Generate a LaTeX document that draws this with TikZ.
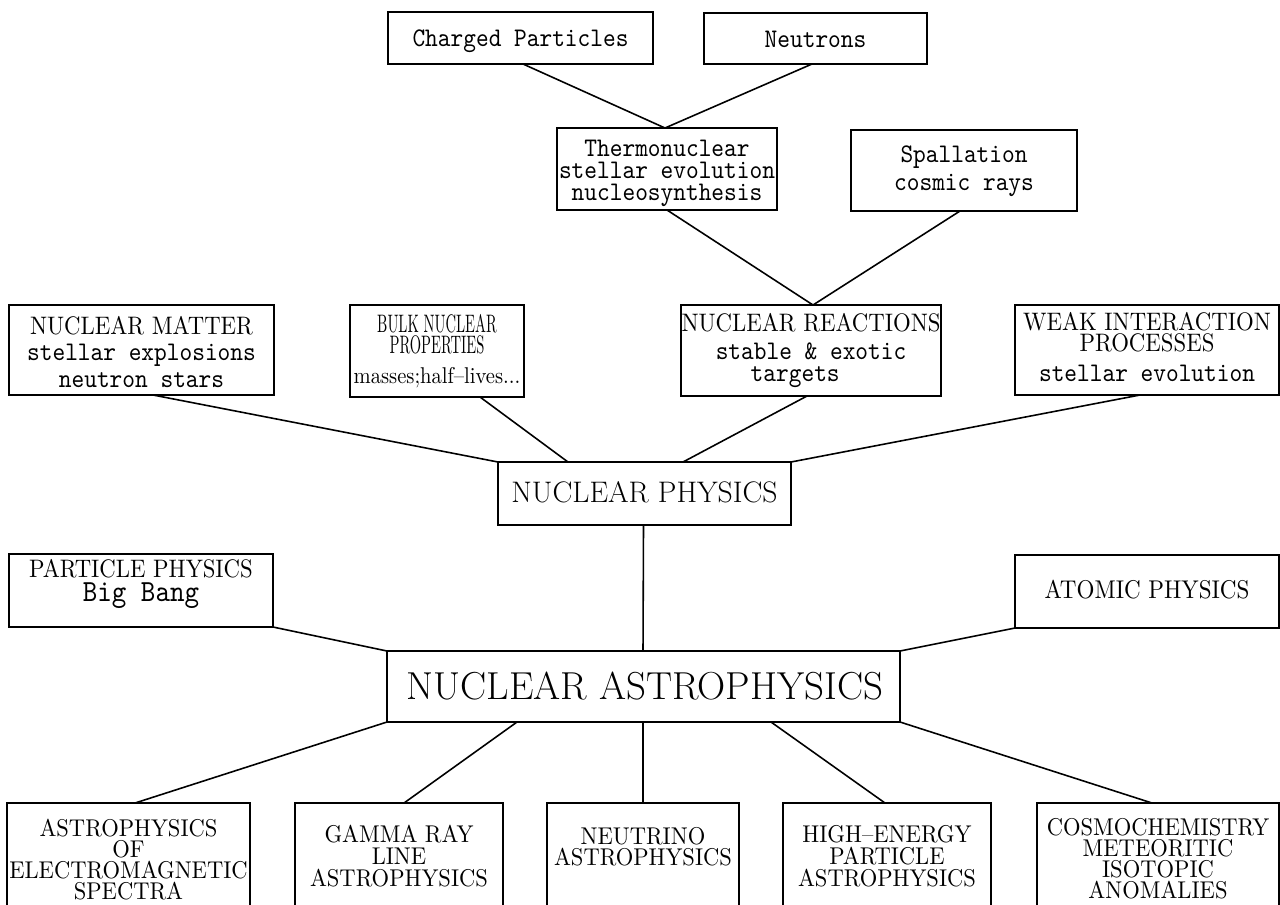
\documentclass[tikz,border=0pt]{standalone}
\usepackage{fontspec}
\newfontfamily\rmS{lmroman10-regular.otf}[FakeStretch=0.9]
\newfontfamily\rmB{lmroman10-regular.otf}[FakeStretch=0.93]
\newfontfamily\ttS{lmmono10-regular.otf}[FakeStretch=0.9]
\newdimen\pxu \pxu=0.02cm
\newcommand\rmf[2]{\fontsize{#1}{#2}\selectfont\lineskiplimit=-30pt\relax}
\newcommand\mono[1]{{\ttS\fontsize{15.3}{15.3}\selectfont #1}}
\newcommand\narrow[1]{\scalebox{0.64}[1]{#1}}
\tikzset{
  bx/.style={draw, line width=0.9pt, inner sep=0pt, outer sep=0pt},
  cn/.style={line width=0.9pt},
  tx/.style={inner sep=0pt, align=center},
  ttx/.style={tx, font=\ttS\rmf{15.3}{15.3}},
  btx/.style={tx, anchor=north, font=\rmB\rmf{13.8}{#1}},
}
\begin{document}
\begin{tikzpicture}[x=0.02cm, y=-0.02cm]
\useasboundingbox (0,0) rectangle (1280,904);
\clip (0,0) rectangle (1280,904);
% ---------- boxes ----------
\node[bx, minimum width=265\pxu, minimum height=52\pxu] (cp) at (520.5,38) {};
\node[bx, minimum width=223\pxu, minimum height=51\pxu] (nt) at (815.5,38.5) {};
\node[bx, minimum width=220\pxu, minimum height=82\pxu] (th) at (667,169) {};
\node[bx, minimum width=226\pxu, minimum height=81\pxu] (sp) at (964,170.5) {};
\node[bx, minimum width=265\pxu, minimum height=90\pxu] (nm) at (141.5,350) {};
\node[bx, minimum width=174\pxu, minimum height=92\pxu] (bk) at (437,351) {};
\node[bx, minimum width=260\pxu, minimum height=91\pxu] (nr) at (811,350.5) {};
\node[bx, minimum width=264\pxu, minimum height=90\pxu] (wk) at (1147,350) {};
\node[bx, minimum width=293\pxu, minimum height=63\pxu] (np) at (644.5,493.5) {};
\node[bx, minimum width=264\pxu, minimum height=73\pxu] (pp) at (141,590.5) {};
\node[bx, minimum width=264\pxu, minimum height=73\pxu] (at) at (1147,591.5) {};
\node[bx, minimum width=513\pxu, minimum height=71\pxu] (na) at (643.5,686.5) {};
\node[bx, minimum width=243\pxu, minimum height=127\pxu] (em) at (128.5,866.5) {};
\node[bx, minimum width=208\pxu, minimum height=127\pxu] (gr) at (399,866.5) {};
\node[bx, minimum width=192\pxu, minimum height=127\pxu] (nu) at (643,866.5) {};
\node[bx, minimum width=208\pxu, minimum height=127\pxu] (he) at (887,866.5) {};
\node[bx, minimum width=242\pxu, minimum height=127\pxu] (cc) at (1158,866.5) {};
% ---------- texts ----------
\node[ttx, anchor=base] (cpt) at (520.5,46) {Charged Particles};
\node[ttx, anchor=base] (ntt) at (815.5,47) {Neutrons};
\node[tx, anchor=north, font=\ttS\rmf{15.3}{12.5}] (tht) at (667,140)
  {Thermonuclear\\stellar evolution\\nucleosynthesis};
\node[tx, anchor=north, font=\ttS\rmf{15.3}{16}] (spt) at (964,145)
  {Spallation\\cosmic rays};
\node[tx, anchor=north, font=\rmS\rmf{14.4}{15}] (nmt) at (141.5,316)
  {NUCLEAR MATTER\\\mono{stellar explosions}\\\mono{neutron stars}};
\node[tx, anchor=north, font=\rmS\rmf{14.4}{12}] (bkt) at (437,314)
  {\narrow{BULK NUCLEAR}\\\narrow{PROPERTIES}\\[5pt]{\fontsize{13}{13}\selectfont masses;half–lives...}};
\node[tx, anchor=north, font=\rmS\rmf{14.4}{12.5}] (nrt) at (811,313)
  {NUCLEAR REACTIONS\\[3.5pt]\mono{stable \& exotic}\\\mono{targets\hspace*{18pt}}};
\node[tx, anchor=north, font=\rmS\rmf{14.4}{12}] (wkt) at (1147,312)
  {WEAK INTERACTION\\PROCESSES\\[5pt]\mono{stellar evolution}};
\node[tx, anchor=base, font=\rmf{16.9}{16.9}] (npt) at (644.5,502) {NUCLEAR PHYSICS};
\node[tx, anchor=north, font=\rmS\rmf{14.4}{13.7}] (ppt) at (141,559)
  {PARTICLE PHYSICS\\{\ttS\fontsize{17.5}{17.5}\selectfont Big Bang}};
\node[tx, anchor=base, font=\rmS\rmf{14.6}{14.6}] (att) at (1147,598) {ATOMIC PHYSICS};
\node[tx, anchor=base, font=\rmf{22.2}{22.2}] (nat) at (645,699) {NUCLEAR ASTROPHYSICS};
\node[btx=12] (emt) at (128.5,819)
  {ASTROPHYSICS\\OF\\ELECTROMAGNETIC\\SPECTRA};
\node[btx=12.5] (grt) at (399,825)
  {GAMMA RAY\\LINE\\ASTROPHYSICS};
\node[btx=11.7] (nut) at (643,827)
  {NEUTRINO\\ASTROPHYSICS};
\node[btx=12.5] (het) at (887,825)
  {HIGH–ENERGY\\PARTICLE\\ASTROPHYSICS};
\node[btx=12] (cct) at (1158,818)
  {COSMOCHEMISTRY\\METEORITIC\\ISOTOPIC\\ANOMALIES};
% ---------- connectors ----------
\draw[cn] ([xshift=2.5\pxu]cp.south) -- ([xshift=-2\pxu]th.north);
\draw[cn] ([xshift=-3.5\pxu]nt.south) -- ([xshift=-2\pxu]th.north);
\draw[cn] (th.south) -- ([xshift=2\pxu]nr.north);
\draw[cn] ([xshift=-4\pxu]sp.south) -- ([xshift=2\pxu]nr.north);
\draw[cn] ([xshift=11.5\pxu]nm.south) -- (np.north west);
\draw[cn] ([xshift=43\pxu]bk.south) -- ([xshift=-76.5\pxu]np.north);
\draw[cn] ([xshift=-4\pxu]nr.south) -- ([xshift=38.5\pxu]np.north);
\draw[cn] ([xshift=-7\pxu]wk.south) -- (np.north east);
\draw[cn] ([xshift=-1\pxu]np.south) -- ([xshift=-0.5\pxu]na.north);
\draw[cn] (pp.south east) -- (na.north west);
\draw[cn] (at.south west) -- (na.north east);
\draw[cn] (na.south west) -- ([xshift=6.5\pxu]em.north);
\draw[cn] ([xshift=-126.5\pxu]na.south) -- ([xshift=5\pxu]gr.north);
\draw[cn] ([xshift=-0.5\pxu]na.south) -- (nu.north);
\draw[cn] ([xshift=127.5\pxu]na.south) -- ([xshift=-2\pxu]he.north);
\draw[cn] (na.south east) -- ([xshift=-6\pxu]cc.north);
\end{tikzpicture}
\end{document}
